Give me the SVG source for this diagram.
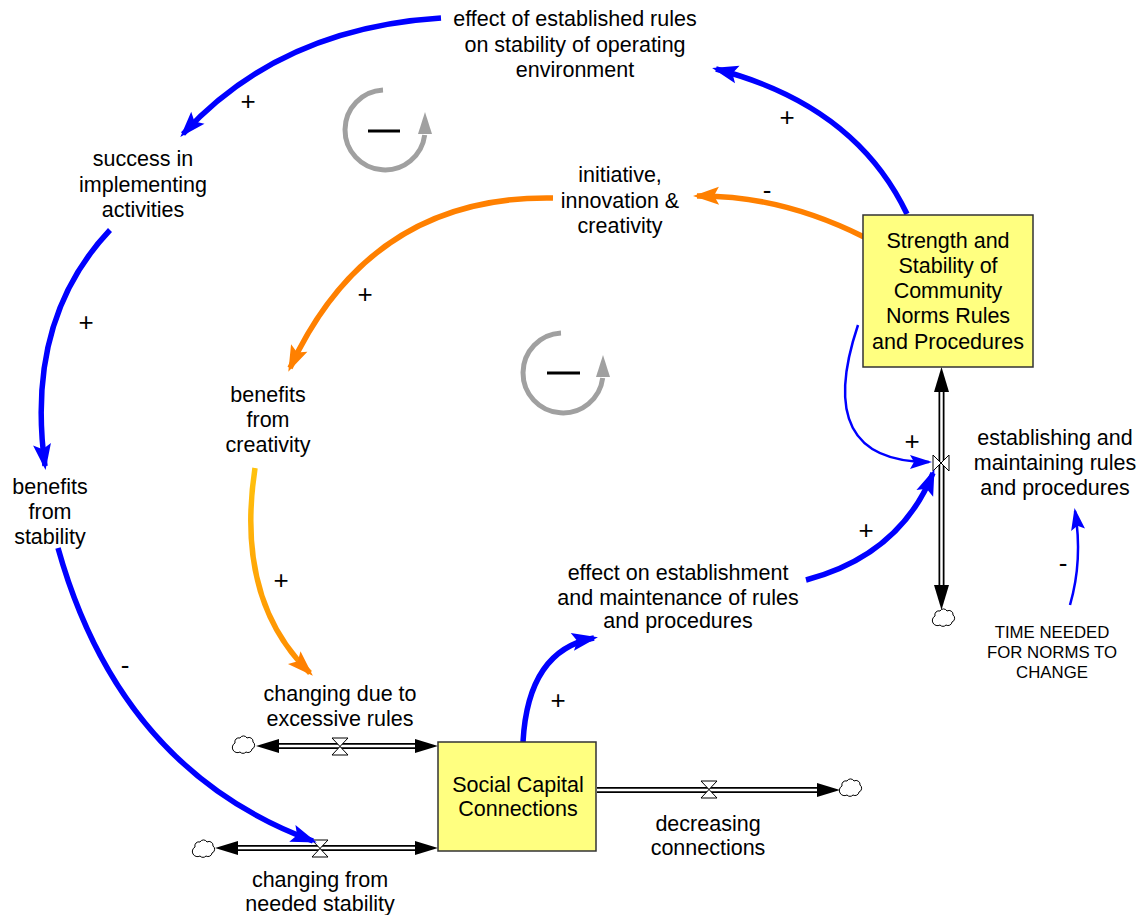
<svg xmlns="http://www.w3.org/2000/svg" xmlns:xlink="http://www.w3.org/1999/xlink" width="1144" height="915" viewBox="0 0 1144 915">
  <style>
    text { font-family: "Liberation Sans", Arial, sans-serif; font-size: 21.5px; fill: #000; text-anchor: middle; }
    text.small { font-size: 16.8px; }
    text.sign { font-size: 26px; }
    .stock { fill: #FFFF80; stroke: #333; stroke-width: 1.5; }
    .blue { fill: none; stroke: #0000FF; stroke-width: 5.5; }
    .bluethin { fill: none; stroke: #0000FF; stroke-width: 2.5; }
    .orange { fill: none; stroke: #FF8000; stroke-width: 5.5; }
    .pipe-out { stroke: #000; stroke-width: 6; fill: none; }
    .pipe-in { stroke: #fff; stroke-width: 2.5; fill: none; }
    .valve { fill: #fff; stroke: #000; stroke-width: 1; }
    .cloud { fill: #fff; stroke: #000; stroke-width: 1; }
    .loop { fill: none; stroke: #A0A0A0; stroke-width: 5; }
  </style>
  <defs>
    <marker id="arrowBlue" markerUnits="userSpaceOnUse" orient="auto" viewBox="-30 -15 40 30" markerWidth="40" markerHeight="30" refX="0" refY="0">
      <path d="M4,0 L-22,-9 L-17,0 L-22,9 Z" fill="#0000FF"/>
    </marker>
    <marker id="arrowBlueThin" markerUnits="userSpaceOnUse" orient="auto" viewBox="-30 -15 40 30" markerWidth="40" markerHeight="30" refX="0" refY="0">
      <path d="M3,0 L-19,-7 L-15,0 L-19,7 Z" fill="#0000FF"/>
    </marker>
    <marker id="arrowOrange" markerUnits="userSpaceOnUse" orient="auto" viewBox="-30 -15 40 30" markerWidth="40" markerHeight="30" refX="0" refY="0">
      <path d="M4,0 L-22,-9 L-17,0 L-22,9 Z" fill="#FF8000"/>
    </marker>
    <linearGradient id="fadeOrange" gradientUnits="userSpaceOnUse" x1="0" y1="468" x2="0" y2="676">
      <stop offset="0" stop-color="#FFC20E"/>
      <stop offset="1" stop-color="#FF8C00"/>
    </linearGradient>
    <path id="cloudShape" d="M-9,-3 a4,4 0 0 1 5,-5 a4,4 0 0 1 7,0 a4,4 0 0 1 6,4 a4,4 0 0 1 -1,7 a4,4 0 0 1 -6,3 a4,4 0 0 1 -6,0 a4,4 0 0 1 -5,-9 Z"/>
  </defs>

  <!-- feedback loop markers -->
  <g id="loop-outer">
    <path class="loop" d="M383,90 A40,40 0 1,0 424.7,135"/>
    <polygon points="425,112 418,134 432,134" fill="#A0A0A0"/>
    <line x1="368" y1="131" x2="400" y2="131" stroke="#000" stroke-width="3"/>
  </g>
  <g id="loop-inner">
    <path class="loop" d="M561,333 A40,40 0 1,0 602.7,378"/>
    <polygon points="603,355 596,377 610,377" fill="#A0A0A0"/>
    <line x1="547" y1="373" x2="580" y2="373" stroke="#000" stroke-width="3"/>
  </g>

  <!-- material flows (pipes, valves, clouds) -->
  <g id="flows">
    <!-- establishing and maintaining rules and procedures -->
    <line class="pipe-out" x1="941.5" y1="380" x2="941.5" y2="598"/>
    <line class="pipe-in" x1="941.5" y1="380" x2="941.5" y2="598"/>
    <polygon points="941.5,367 934,392 949,392" fill="#000"/>
    <polygon points="941.5,610 934,585 949,585" fill="#000"/>
    <path class="valve" d="M933,455 L949,471 L949,455 L933,471 Z"/>
    <use href="#cloudShape" class="cloud" transform="translate(944,619)"/>

    <!-- changing due to excessive rules -->
    <line class="pipe-out" x1="268" y1="746" x2="426" y2="746"/>
    <line class="pipe-in" x1="268" y1="746" x2="426" y2="746"/>
    <polygon points="256,746 279,739 279,753" fill="#000"/>
    <polygon points="438,746 415,739 415,753" fill="#000"/>
    <path class="valve" d="M332,738 L348,738 L332,755 L348,755 Z"/>
    <use href="#cloudShape" class="cloud" transform="translate(244,746)"/>

    <!-- changing from needed stability -->
    <line class="pipe-out" x1="226" y1="848" x2="426" y2="848"/>
    <line class="pipe-in" x1="226" y1="848" x2="426" y2="848"/>
    <polygon points="215,848 238,841 238,855" fill="#000"/>
    <polygon points="438,848 415,841 415,855" fill="#000"/>
    <path class="valve" d="M312,840 L328,840 L312,857 L328,857 Z"/>
    <use href="#cloudShape" class="cloud" transform="translate(204,850)"/>

    <!-- decreasing connections -->
    <line class="pipe-out" x1="597" y1="790" x2="828" y2="790"/>
    <line class="pipe-in" x1="597" y1="790" x2="828" y2="790"/>
    <polygon points="840,790 817,783 817,797" fill="#000"/>
    <path class="valve" d="M701,781 L717,781 L701,798 L717,798 Z"/>
    <use href="#cloudShape" class="cloud" transform="translate(851,789)"/>
  </g>

  <!-- causal links -->
  <g id="connectors">
    <path class="blue" d="M907,214 Q855,105 716,69" marker-end="url(#arrowBlue)"/>
    <path class="blue" d="M441,18 Q280,28 183,134" marker-end="url(#arrowBlue)"/>
    <path class="blue" d="M110,230 Q25,320 45,466" marker-end="url(#arrowBlue)"/>
    <path class="blue" d="M58,548 Q120,770 313,841" marker-end="url(#arrowBlue)"/>
    <path class="orange" d="M864,237 Q780,195 697,196" marker-end="url(#arrowOrange)"/>
    <path class="orange" d="M553,198 Q370,195 290,368" marker-end="url(#arrowOrange)"/>
    <path fill="none" stroke="url(#fadeOrange)" stroke-width="5.5" d="M255,468 Q235,600 310,673" marker-end="url(#arrowOrange)"/>
    <path class="blue" d="M523,742 Q528,650 594,638" marker-end="url(#arrowBlue)"/>
    <path class="blue" d="M806,580 Q900,555 933,473" marker-end="url(#arrowBlue)"/>
    <path class="bluethin" d="M858,325 Q812,462 929,462" marker-end="url(#arrowBlueThin)"/>
    <path class="bluethin" d="M1070,605 Q1083,560 1075,511" marker-end="url(#arrowBlueThin)"/>

    <!-- polarity signs -->
    <text class="sign" x="248" y="110">+</text>
    <text class="sign" x="787" y="126">+</text>
    <text class="sign" x="767" y="199">-</text>
    <text class="sign" x="86" y="331">+</text>
    <text class="sign" x="365" y="303">+</text>
    <text class="sign" x="912" y="450">+</text>
    <text class="sign" x="866" y="539">+</text>
    <text class="sign" x="1063" y="572">-</text>
    <text class="sign" x="281" y="589">+</text>
    <text class="sign" x="125" y="674">-</text>
    <text class="sign" x="558" y="709">+</text>
  </g>

  <!-- variables -->
  <g id="effect-established-rules">
    <text x="575" y="26">effect of established rules</text>
    <text x="575" y="52">on stability of operating</text>
    <text x="575" y="77">environment</text>
  </g>
  <g id="success-implementing">
    <text x="143" y="166">success in</text>
    <text x="143" y="192">implementing</text>
    <text x="143" y="217">activities</text>
  </g>
  <g id="initiative">
    <text x="620" y="182">initiative,</text>
    <text x="620" y="208">innovation &amp;</text>
    <text x="620" y="233">creativity</text>
  </g>
  <g id="strength-stability">
    <rect class="stock" x="863" y="215" width="170" height="152"/>
    <text x="948" y="248">Strength and</text>
    <text x="948" y="273">Stability of</text>
    <text x="948" y="298">Community</text>
    <text x="948" y="323">Norms Rules</text>
    <text x="948" y="349">and Procedures</text>
  </g>
  <g id="benefits-creativity">
    <text x="268" y="402">benefits</text>
    <text x="268" y="427">from</text>
    <text x="268" y="452">creativity</text>
  </g>
  <g id="benefits-stability">
    <text x="50" y="494">benefits</text>
    <text x="50" y="519">from</text>
    <text x="50" y="544">stability</text>
  </g>
  <g id="establishing-maintaining">
    <text x="1055" y="445">establishing and</text>
    <text x="1055" y="470">maintaining rules</text>
    <text x="1055" y="495">and procedures</text>
  </g>
  <g id="effect-on-establishment">
    <text x="678" y="580">effect on establishment</text>
    <text x="678" y="605">and maintenance of rules</text>
    <text x="678" y="628">and procedures</text>
  </g>
  <g id="time-needed">
    <text class="small" x="1052" y="638">TIME NEEDED</text>
    <text class="small" x="1052" y="658">FOR NORMS TO</text>
    <text class="small" x="1052" y="678">CHANGE</text>
  </g>
  <g id="changing-excessive">
    <text x="340" y="701">changing due to</text>
    <text x="340" y="726">excessive rules</text>
  </g>
  <g id="social-capital">
    <rect class="stock" x="438" y="742" width="158" height="109"/>
    <text x="518" y="792">Social Capital</text>
    <text x="518" y="816">Connections</text>
  </g>
  <g id="decreasing-connections">
    <text x="708" y="831">decreasing</text>
    <text x="708" y="855">connections</text>
  </g>
  <g id="changing-stability">
    <text x="320" y="887">changing from</text>
    <text x="320" y="911">needed stability</text>
  </g>
</svg>
